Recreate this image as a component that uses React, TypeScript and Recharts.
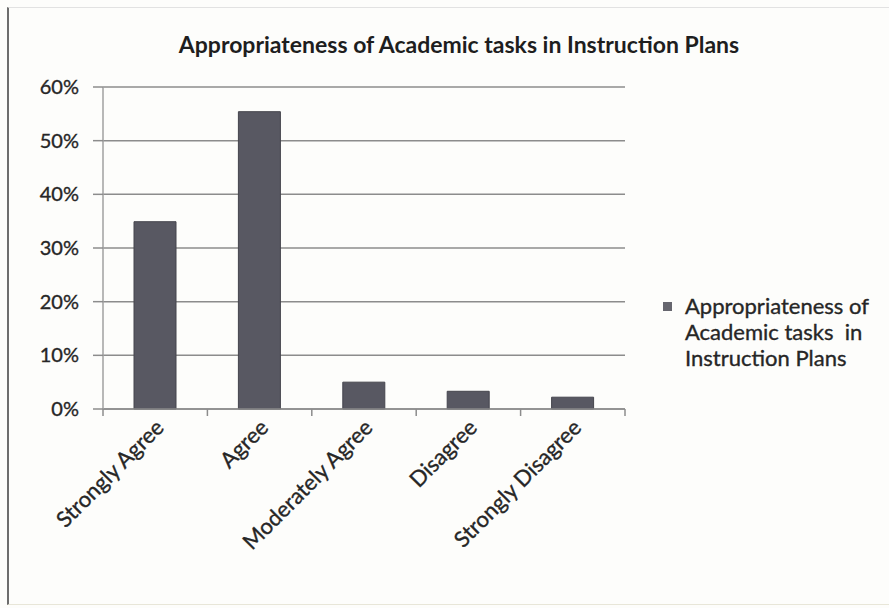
import React from 'react';
import { BarChart, Bar, XAxis, YAxis, CartesianGrid, Legend } from 'recharts';

const TITLE = 'Appropriateness of Academic tasks in Instruction Plans';
const categories = ['Strongly Agree', 'Agree', 'Moderately Agree', 'Disagree', 'Strongly Disagree'];
const shares = [34.9, 55.4, 5.0, 3.3, 2.2];
const yTicks = [0, 10, 20, 30, 40, 50, 60];
const legendLines = ['Appropriateness of', 'Academic tasks  in', 'Instruction Plans'];

const data = categories.map((name, i) => ({ name, value: shares[i] }));

const FONT = 'Lato, "Open Sans", sans-serif';
const TEXT = '#262626';
const BAR = '#585862';
const GRID = '#8c8c8c';

const XTick = (props: any) => {
  const { x, y, payload, index } = props;
  const half = payload?.offset ?? 52;
  const lx = x + 10;
  const ly = y + 20;
  return (
    <g>
      {index === 0 && <line x1={x - half} y1={y} x2={x - half} y2={y + 7} stroke={GRID} strokeWidth={1.5} />}
      <line x1={x + half} y1={y} x2={x + half} y2={y + 7} stroke={GRID} strokeWidth={1.5} />
      <text
        x={lx}
        y={ly}
        transform={`rotate(-45, ${lx}, ${ly})`}
        textAnchor="end"
        fill={TEXT}
        stroke={TEXT}
        strokeWidth={0.35}
        fontSize={22}
        fontFamily={FONT}
      >
        {payload.value}
      </text>
    </g>
  );
};

const LegendBox = () => (
  <div style={{ fontFamily: FONT, fontSize: 22, color: TEXT, position: 'relative', lineHeight: '26px', WebkitTextStroke: '0.35px #262626' }}>
    <span style={{ position: 'absolute', left: 0, top: 9, width: 9, height: 9, background: '#66666e' }} />
    <div style={{ paddingLeft: 22 }}>
      {legendLines.map((l) => (
        <div key={l} style={{ whiteSpace: 'pre' }}>{l}</div>
      ))}
    </div>
  </div>
);

const App: React.FC = () => {
  return (
    <div style={{ position: 'absolute', left: 0, top: 0, width: 889, height: 608, background: '#fdfdfb', overflow: 'hidden' }}>
      <div
        style={{
          position: 'absolute', left: 7, top: 7, width: 900, height: 596,
          borderLeft: '2px solid #6d6d6d', borderTop: '1px solid #e2e2e2', borderBottom: '1px solid #e8e6d8',
        }}
      />
      <div
        style={{
          position: 'absolute', left: 0, width: 918, top: 30, textAlign: 'center',
          fontFamily: FONT, fontWeight: 700, fontSize: 23, color: '#1e1e1e',
        }}
      >
        {TITLE}
      </div>
      <div style={{ position: 'absolute', left: 0, top: 0 }}>
        <BarChart width={889} height={608} data={data} margin={{ top: 87, right: 44, bottom: 78, left: 0 }} barSize={42}>
          <CartesianGrid vertical={false} stroke={GRID} strokeWidth={1.5} />
          <XAxis
            dataKey="name"
            interval={0}
            height={121}
            tickLine={false}
            tickSize={0}
            tickMargin={0}
            tick={<XTick />}
            axisLine={{ stroke: GRID, strokeWidth: 1.5 }}
          />
          <YAxis
            width={103}
            domain={[0, 60]}
            ticks={yTicks}
            interval={0}
            tickFormatter={(v) => `${v}%`}
            tickSize={10}
            tickMargin={14}
            tickLine={{ stroke: GRID, strokeWidth: 1.5 }}
            axisLine={{ stroke: '#a0a0a0', strokeWidth: 1.5 }}
            tick={{ fill: TEXT, stroke: TEXT, strokeWidth: 0.35, fontSize: 20, fontFamily: FONT }}
          />
          <Legend
            layout="vertical"
            align="right"
            verticalAlign="top"
            content={<LegendBox />}
            wrapperStyle={{ width: 220, left: 663, top: 293, right: 'auto' }}
          />
          <Bar dataKey="value" fill={BAR} stroke="#45454d" strokeWidth={1} isAnimationActive={false} />
        </BarChart>
      </div>
    </div>
  );
};

export default App;
